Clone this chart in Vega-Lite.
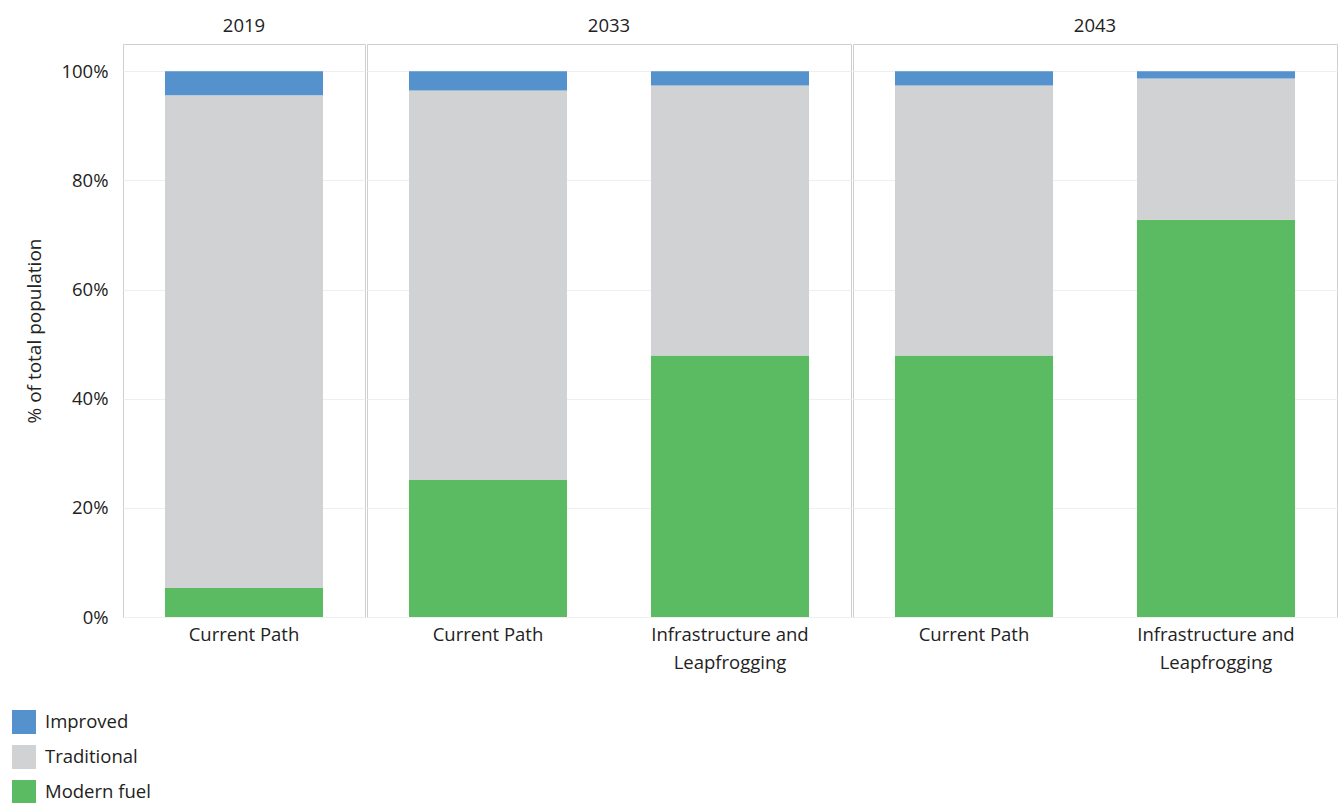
{
  "$schema": "https://vega.github.io/schema/vega-lite/v6.json",
  "background": "white",
  "padding": {"left": 12, "top": 16, "right": 5, "bottom": 0},
  "data": {
    "values": [
      {"year": "2019", "scenario": "Current Path", "type": "Modern fuel", "value": 0.053},
      {"year": "2019", "scenario": "Current Path", "type": "Traditional", "value": 0.903},
      {"year": "2019", "scenario": "Current Path", "type": "Improved", "value": 0.044},
      {"year": "2033", "scenario": "Current Path", "type": "Modern fuel", "value": 0.251},
      {"year": "2033", "scenario": "Current Path", "type": "Traditional", "value": 0.714},
      {"year": "2033", "scenario": "Current Path", "type": "Improved", "value": 0.035},
      {"year": "2033", "scenario": "Infrastructure and Leapfrogging", "type": "Modern fuel", "value": 0.479},
      {"year": "2033", "scenario": "Infrastructure and Leapfrogging", "type": "Traditional", "value": 0.495},
      {"year": "2033", "scenario": "Infrastructure and Leapfrogging", "type": "Improved", "value": 0.026},
      {"year": "2043", "scenario": "Current Path", "type": "Modern fuel", "value": 0.479},
      {"year": "2043", "scenario": "Current Path", "type": "Traditional", "value": 0.495},
      {"year": "2043", "scenario": "Current Path", "type": "Improved", "value": 0.026},
      {"year": "2043", "scenario": "Infrastructure and Leapfrogging", "type": "Modern fuel", "value": 0.728},
      {"year": "2043", "scenario": "Infrastructure and Leapfrogging", "type": "Traditional", "value": 0.259},
      {"year": "2043", "scenario": "Infrastructure and Leapfrogging", "type": "Improved", "value": 0.013}
    ]
  },
  "transform": [
    {"calculate": "indexof(['Modern fuel', 'Traditional', 'Improved'], datum.type)", "as": "stack_rank"}
  ],
  "facet": {
    "column": {
      "field": "year",
      "type": "ordinal",
      "header": {
        "title": null,
        "labelFont": "Open Sans",
        "labelFontSize": 18.5,
        "labelColor": "#222222",
        "labelPadding": 8
      }
    }
  },
  "spacing": 0,
  "resolve": {"scale": {"x": "independent"}},
  "spec": {
    "width": {"step": 242},
    "height": 573,
    "mark": {"type": "bar"},
    "encoding": {
      "x": {
        "field": "scenario",
        "type": "nominal",
        "scale": {"paddingInner": 0.347, "paddingOuter": 0.1735},
        "axis": {
          "title": null,
          "labelAngle": 0,
          "domain": false,
          "ticks": false,
          "labelPadding": 8,
          "labelFont": "Open Sans",
          "labelFontSize": 18.5,
          "labelColor": "#222222",
          "labelLineHeight": 28,
          "labelExpr": "datum.label == 'Infrastructure and Leapfrogging' ? ['Infrastructure and', 'Leapfrogging'] : datum.label"
        }
      },
      "y": {
        "field": "value",
        "type": "quantitative",
        "stack": "zero",
        "scale": {"domain": [0, 1.05], "nice": false},
        "axis": {
          "title": "% of total population",
          "titleFont": "Open Sans",
          "titleFontSize": 19,
          "titleFontWeight": "normal",
          "titleColor": "#222222",
          "titlePadding": 16,
          "format": ".0%",
          "values": [0, 0.2, 0.4, 0.6, 0.8, 1.0],
          "domain": false,
          "ticks": false,
          "labelPadding": 14,
          "labelFont": "Open Sans",
          "labelFontSize": 18.5,
          "labelColor": "#222222",
          "gridColor": "#efefef"
        }
      },
      "order": {"field": "stack_rank", "type": "quantitative", "sort": "ascending"},
      "color": {
        "field": "type",
        "type": "nominal",
        "scale": {
          "domain": ["Improved", "Traditional", "Modern fuel"],
          "range": ["#5591CD", "#D0D2D4", "#5BBB62"]
        },
        "legend": {
          "title": null,
          "orient": "none",
          "legendX": -111,
          "legendY": 666,
          "direction": "vertical",
          "symbolType": "square",
          "symbolSize": 576,
          "symbolStrokeWidth": 0,
          "symbolOpacity": 1,
          "labelFont": "Open Sans",
          "labelFontSize": 18.5,
          "labelColor": "#222222",
          "rowPadding": 11,
          "labelOffset": 9
        }
      }
    }
  },
  "config": {
    "view": {"stroke": "#cfcfcf", "strokeWidth": 1},
    "axis": {"gridWidth": 1}
  }
}
